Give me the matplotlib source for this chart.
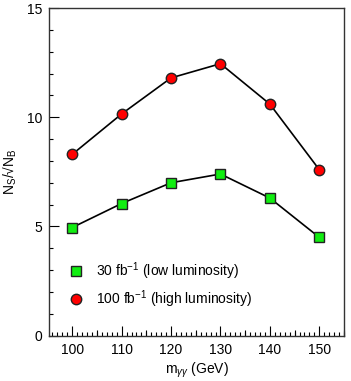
import matplotlib
matplotlib.use("Agg")
import matplotlib.pyplot as plt
from matplotlib.ticker import MultipleLocator

plt.rcParams['font.family'] = ['Liberation Sans', 'DejaVu Sans']
plt.rcParams['mathtext.fontset'] = 'custom'
plt.rcParams['mathtext.rm'] = 'Liberation Sans'
plt.rcParams['mathtext.it'] = 'Liberation Sans:italic'

mass = [100, 110, 120, 130, 140, 150]
low_lumi = [4.95, 6.05, 7.0, 7.4, 6.3, 4.5]
high_lumi = [8.3, 10.15, 11.8, 12.45, 10.6, 7.6]
label_low = r'30 fb$^{-1}$ (low luminosity)'
label_high = r'100 fb$^{-1}$ (high luminosity)'

fig = plt.figure(figsize=(3.51, 3.81), dpi=100)
ax = fig.add_axes([0.141, 0.119, 0.839, 0.860])

ax.plot(mass, low_lumi, color='black', lw=1.2, marker='s', ms=7.5,
        mfc='#11ee11', mec='#222222', mew=1.0, label=label_low, zorder=3)
ax.plot(mass, high_lumi, color='black', lw=1.2, marker='o', ms=7.5,
        mfc='#ff0000', mec='#222222', mew=1.0, label=label_high, zorder=3)

ax.set_xlim(95.4, 155)
ax.set_ylim(0, 15)
ax.xaxis.set_major_locator(MultipleLocator(10))
ax.xaxis.set_minor_locator(MultipleLocator(1))
ax.yaxis.set_major_locator(MultipleLocator(5))
ax.yaxis.set_minor_locator(MultipleLocator(1))
ax.tick_params(which='both', direction='in', top=False, right=False, labelsize=10, width=0.8)
ax.tick_params(which='major', length=7, pad=5)
ax.tick_params(which='minor', length=3)

sec = ax.secondary_xaxis('bottom')
sec.set_xticks([105, 115, 125, 135, 145, 155])
sec.tick_params(direction='in', length=4.5, width=0.8, labelbottom=False)
sec.spines['bottom'].set_visible(False)

for s in ax.spines.values():
    s.set_linewidth(1.0)
    s.set_color('#333333')

ax.set_xlabel(r'm$_{\gamma\gamma}$ (GeV)', fontsize=10, labelpad=3)
ax.set_ylabel('N$_\\mathrm{S}$/\u221aN$_\\mathrm{B}$', fontsize=10, labelpad=6)

ax.legend(loc='lower left', bbox_to_anchor=(0.025, 0.04), frameon=False,
          fontsize=10, handlelength=1.0, handletextpad=0.9, labelspacing=0.45,
          numpoints=1)
leg = ax.get_legend()
for h in leg.legend_handles:
    h.set_linestyle('none')

fig.savefig('out.png', dpi=100)
